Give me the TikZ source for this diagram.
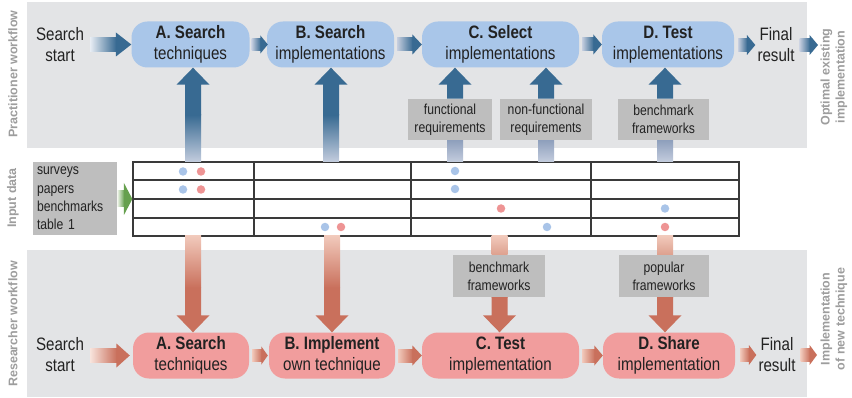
\documentclass[tikz,border=0pt]{standalone}
\usepackage{fontspec}
\setmainfont{Liberation Sans}[FakeStretch=0.84]
\newfontfamily\sidefont{Liberation Sans}
\usetikzlibrary{calc}
\definecolor{panel}{HTML}{E3E4E6}
\definecolor{nblue}{HTML}{A9C6E9}
\definecolor{dblue}{HTML}{386A92}
\definecolor{lblue}{HTML}{E8EDF4}
\definecolor{fblue}{HTML}{C4CDDE}
\definecolor{mblue}{HTML}{8E9FBC}
\definecolor{npink}{HTML}{F19D9D}
\definecolor{dred}{HTML}{C9705C}
\definecolor{lred}{HTML}{F8E4DD}
\definecolor{fred}{HTML}{F1C9BB}
\definecolor{mred}{HTML}{DDA08E}
\definecolor{gbox}{HTML}{BEBEBE}
\definecolor{dotb}{HTML}{A9C4E8}
\definecolor{dotr}{HTML}{EE9494}
\definecolor{dgreen}{HTML}{66A04E}
\definecolor{lgreen}{HTML}{F0F5EC}
\definecolor{sidegray}{HTML}{9D9D9D}
\definecolor{txt}{HTML}{222222}
\definecolor{tline}{HTML}{3A3A3A}
% horizontal block arrow: #1 start, #2 tip, #3 head length, #4 head half height, #5 shaft half height, #6 light, #7 dark
\newcommand\harrow[7]{%
 \shade[left color=#6, right color=#7] let \p1=(#1), \p2=(#2) in (\x1,{\y2-#5}) rectangle ({\x2-#3},{\y2+#5});
 \fill[#7] let \p1=(#1), \p2=(#2) in ({\x2-#3-0.4},{\y2-#4}) -- (\x2,\y2) -- ({\x2-#3-0.4},{\y2+#4}) -- cycle;}
% upward block arrow: #1 foot, #2 tip, #3 fade length, #4 light, #5 dark
\newcommand\uparr[5]{%
 \shade[bottom color=#4, top color=#5] let \p1=(#1) in ({\x1-8},\y1) rectangle ({\x1+8},{\y1+#3});
 \fill[#5] let \p1=(#1), \p2=(#2) in ({\x1-8},{\y1+#3-0.4}) rectangle ({\x1+8},{\y2-17}) ({\x1-16.5},{\y2-17}) -- (\x1,\y2) -- ({\x1+16.5},{\y2-17}) -- cycle;}
% downward block arrow
\newcommand\downarr[5]{%
 \shade[top color=#4, bottom color=#5] let \p1=(#1) in ({\x1-8},\y1) rectangle ({\x1+8},{\y1-#3});
 \fill[#5] let \p1=(#1), \p2=(#2) in ({\x1-8},{\y1-#3+0.4}) rectangle ({\x1+8},{\y2+17}) ({\x1-16.5},{\y2+17}) -- (\x1,\y2) -- ({\x1+16.5},{\y2+17}) -- cycle;}
\begin{document}
\begin{tikzpicture}[x=1pt,y=-1pt,
 stepnode/.style={rounded corners=16pt, minimum height=46pt, inner sep=0pt, align=center, font=\fontsize{18}{21.5}\selectfont, text=txt},
 topnode/.style={stepnode, fill=nblue},
 botnode/.style={stepnode, fill=npink},
 plain/.style={align=center, inner sep=0pt, font=\fontsize{18}{21}\selectfont, text=txt},
 graybox/.style={fill=gbox, align=center, inner sep=0pt, minimum height=41pt, font=\fontsize{14.5}{18}\selectfont, text=txt},
 sidelabel/.style={rotate=90, align=center, inner sep=0pt, font=\sidefont\bfseries\fontsize{12.5}{15}\selectfont, text=sidegray},
 dot/.style={circle, inner sep=0pt, minimum size=8.5pt},
 tablel/.style={draw=tline, line width=1.3pt},
]
\useasboundingbox (0,0) rectangle (852,398);
% panels
\fill[panel] (27,2) rectangle (807,148);
\fill[panel] (27,250) rectangle (807,397);
% side labels
\node[sidelabel] (lp) at (13,74) {Practitioner workflow};
\node[sidelabel] (li) at (13,198) {Input data};
\node[sidelabel] (lr) at (13,324) {Researcher workflow};
\node[sidelabel] (ro) at (834,77) {Optimal existing\\implementation};
\node[sidelabel] (rn) at (834,319) {Implementation\\of new technique};
% top row
\node[plain] (tS) at (60,45) {Search\\start};
\node[topnode, minimum width=118pt] (tA) at (190.5,44.5) {\textbf{A. Search}\\techniques};
\node[topnode, minimum width=127pt] (tB) at (330.5,44.5) {\textbf{B. Search}\\implementations};
\node[topnode, minimum width=157pt] (tC) at (500.5,44.5) {\textbf{C. Select}\\implementations};
\node[topnode, minimum width=132pt] (tD) at (668,44.5) {\textbf{D. Test}\\implementations};
\node[plain] (tF) at (776,45) {Final\\result};
\coordinate (tIn) at (90,45);
\coordinate (tOut) at (818,45);
% bottom row
\node[plain] (bS) at (60,355) {Search\\start};
\node[botnode, minimum width=116pt] (bA) at (191,355.5) {\textbf{A. Search}\\techniques};
\node[botnode, minimum width=126pt] (bB) at (332,355.5) {\textbf{B. Implement}\\own technique};
\node[botnode, minimum width=157pt] (bC) at (500.5,355.5) {\textbf{C. Test}\\implementation};
\node[botnode, minimum width=132pt] (bD) at (669,355.5) {\textbf{D. Share}\\implementation};
\node[plain] (bF) at (777,355) {Final\\result};
\coordinate (bIn) at (90,355);
\coordinate (bOut) at (817,355);
% gray boxes
\node[graybox, minimum width=84pt] (fr) at (450,119.5) {functional\\requirements};
\node[graybox, minimum width=92pt] (nf) at (546,119.5) {non-functional\\requirements};
\node[graybox, minimum width=91pt] (bf) at (663.5,119.5) {benchmark\\frameworks};
\node[graybox, minimum width=92pt, minimum height=42pt] (bb) at (499,276) {benchmark\\frameworks};
\node[graybox, minimum width=90pt, minimum height=42pt] (pf) at (664,276) {popular\\frameworks};
% input data
\node[fill=gbox, text width=76pt, inner xsep=4pt, inner ysep=0pt, minimum height=73pt, align=left, font=\fontsize{14.5}{18.4}\selectfont, text=txt] (inp) at (75,198.5) {surveys\\papers\\benchmarks\\table 1};
% table
\node[tablel, minimum width=606pt, minimum height=74pt, inner sep=0pt] (tbl) at (436,199) {};
\draw[tablel] (133,180) -- (739,180) (133,199) -- (739,199) (133,218) -- (739,218)
  (254,162) -- (254,236) (411,162) -- (411,236) (591,162) -- (591,236);
% dots
\node[dot, fill=dotb] (d1) at (183,171.5) {};
\node[dot, fill=dotr] (d2) at (201,171.5) {};
\node[dot, fill=dotb] (d3) at (455,171) {};
\node[dot, fill=dotb] (d4) at (183,189.5) {};
\node[dot, fill=dotr] (d5) at (201,189.5) {};
\node[dot, fill=dotb] (d6) at (455,189) {};
\node[dot, fill=dotr] (d7) at (501,208.5) {};
\node[dot, fill=dotb] (d8) at (665,208.5) {};
\node[dot, fill=dotb] (d9) at (325,227) {};
\node[dot, fill=dotr] (d10) at (341,227) {};
\node[dot, fill=dotb] (d11) at (547,227) {};
\node[dot, fill=dotr] (d12) at (665,227) {};
% table feet coordinates
\coordinate (fA) at (193,162);
\coordinate (fB) at (331,162);
\coordinate (fC1) at (455,162);
\coordinate (fC2) at (546,162);
\coordinate (fD) at (665,162);
\coordinate (gA) at (193,236);
\coordinate (gB) at (332,236);
\coordinate (gC) at (499.5,236);
\coordinate (gD) at (665,236);
% top horizontal arrows
\harrow{tIn}{tA.west}{15}{12}{7}{lblue}{dblue}
\harrow{$(tA.east)+(2,0)$}{$(tB.west)+(1,0)$}{7}{9}{6}{fblue}{dblue}
\harrow{$(tB.east)+(3,0)$}{tC.west}{9}{10}{6.5}{fblue}{dblue}
\harrow{$(tC.east)+(3,0)$}{tD.west}{8}{10}{6.5}{fblue}{dblue}
\harrow{$(tD.east)+(4,0)$}{$(tF.west)+(-2,0)$}{8}{10}{6.5}{fblue}{dblue}
\harrow{$(tF.east)+(5,0)$}{tOut}{8}{10}{6.5}{fblue}{dblue}
% bottom horizontal arrows
\harrow{bIn}{$(bA.west)+(-3,0)$}{13}{12}{7}{lred}{dred}
\harrow{$(bA.east)+(3,0)$}{$(bB.west)+(-1,0)$}{6}{9}{6}{fred}{dred}
\harrow{$(bB.east)+(3,0)$}{bC.west}{9}{10}{6.5}{fred}{dred}
\harrow{$(bC.east)+(3,0)$}{bD.west}{8}{10}{6.5}{fred}{dred}
\harrow{$(bD.east)+(5,0)$}{$(bF.west)+(-2,0)$}{7}{10}{6.5}{fred}{dred}
\harrow{$(bF.east)+(5,0)$}{bOut}{7}{10}{6.5}{fred}{dred}
% green input arrow
\harrow{inp.east}{tbl.west}{8}{16}{8}{lgreen}{dgreen}
% vertical arrows up (practitioner)
\uparr{fA}{fA |- tA.south}{47}{fblue}{dblue}
\uparr{fB}{fB |- tB.south}{47}{fblue}{dblue}
\shade[bottom color=fblue, top color=mblue] ($(fC1)+(-8,0)$) rectangle ($(fC1 |- fr.south)+(8,0)$);
\shade[bottom color=fblue, top color=mblue] ($(fC2)+(-8,0)$) rectangle ($(fC2 |- nf.south)+(8,0)$);
\shade[bottom color=fblue, top color=mblue] ($(fD)+(-8,0)$) rectangle ($(fD |- bf.south)+(8,0)$);
\uparr{fC1 |- fr.north}{fC1 |- tC.south}{0.5}{dblue}{dblue}
\uparr{fC2 |- nf.north}{fC2 |- tC.south}{0.5}{dblue}{dblue}
\uparr{fD |- bf.north}{fD |- tD.south}{0.5}{dblue}{dblue}
% vertical arrows down (researcher)
\downarr{gA}{gA |- bA.north}{52}{fred}{dred}
\downarr{gB}{gB |- bB.north}{52}{fred}{dred}
\shade[top color=fred, bottom color=mred] ($(gC)+(-8,0)$) rectangle ($(gC |- bb.north)+(8,0)$);
\shade[top color=fred, bottom color=mred] ($(gD)+(-8,0)$) rectangle ($(gD |- pf.north)+(8,0)$);
\downarr{gC |- bb.south}{gC |- bC.north}{0.5}{dred}{dred}
\downarr{gD |- pf.south}{gD |- bD.north}{0.5}{dred}{dred}
\end{tikzpicture}
\end{document}
